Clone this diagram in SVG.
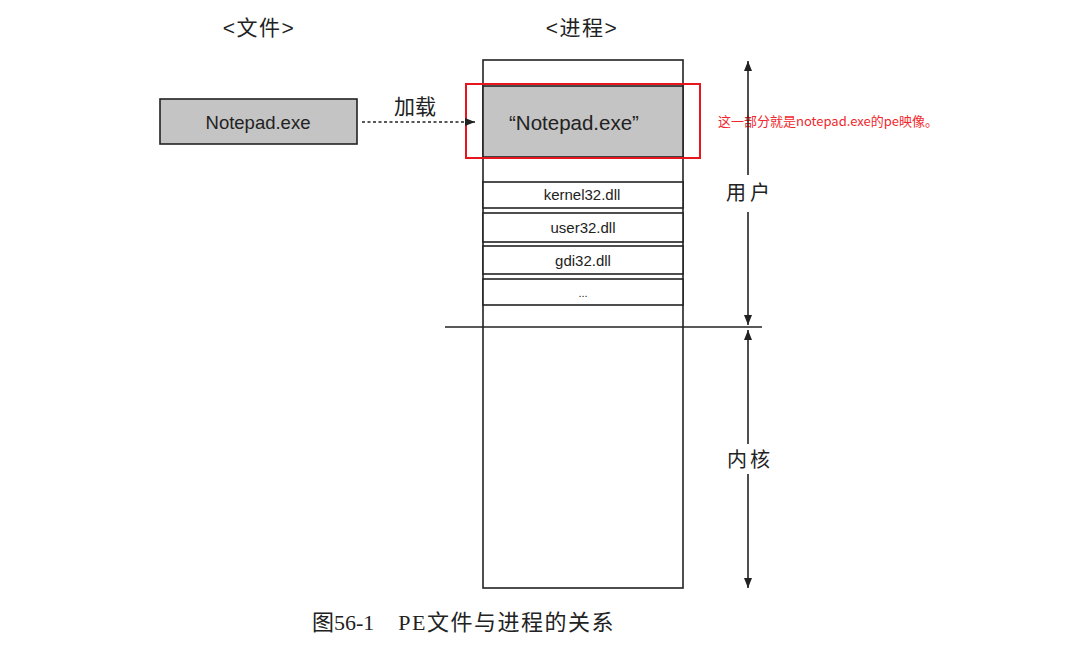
<svg xmlns="http://www.w3.org/2000/svg" width="1089" height="653" viewBox="0 0 1089 653">
<style>
.t{font-family:"Liberation Sans","Noto Sans CJK SC",sans-serif;fill:#222;text-anchor:middle}
.box{fill:#fff;stroke:#222;stroke-width:1.6}
.gray{fill:#c4c4c4;stroke:#222;stroke-width:1.6}
.ln{stroke:#222;stroke-width:1.6;fill:none}
.dll{font-size:15px}
</style>
<defs>
<marker id="ah" viewBox="0 0 10 10" refX="10" refY="5" markerWidth="10" markerHeight="10" markerUnits="userSpaceOnUse" orient="auto">
<path d="M0,1 L10,5 L0,9 Z" fill="#222"/>
</marker>
<marker id="ahb" viewBox="0 0 10 10" refX="10" refY="5" markerWidth="16" markerHeight="10" markerUnits="userSpaceOnUse" orient="auto">
<path d="M0,1 L10,5 L0,9 Z" fill="#222"/>
</marker>
</defs>
<rect width="1089" height="653" fill="#fff"/>
<text class="t" x="259" y="35" font-size="21" letter-spacing="1.5">&lt;文件&gt;</text>
<text class="t" x="582" y="35" font-size="21" letter-spacing="1.5">&lt;进程&gt;</text>
<g id="file">
<rect class="gray" x="160" y="99" width="197" height="45"/>
<text class="t" x="258" y="129" font-size="18.5">Notepad.exe</text>
</g>
<g id="process">
<rect class="box" x="483" y="60" width="200" height="528"/>
<rect class="gray" x="483" y="86" width="200" height="71"/>
<text class="t" x="574" y="130" font-size="20.5">“Notepad.exe”</text>
</g>
<g id="kernel32">
<rect class="box" x="483" y="182" width="200" height="26"/>
<text class="t dll" x="582" y="200">kernel32.dll</text>
</g>
<g id="user32">
<rect class="box" x="483" y="213" width="200" height="29"/>
<text class="t dll" x="583" y="233">user32.dll</text>
</g>
<g id="gdi32">
<rect class="box" x="483" y="246" width="200" height="28"/>
<text class="t dll" x="583" y="266">gdi32.dll</text>
</g>
<g id="more">
<rect class="box" x="483" y="279" width="200" height="26"/>
<text class="t" x="583" y="297" font-size="11">...</text>
</g>
<g id="highlight">
<rect x="466" y="84" width="234" height="74" fill="none" stroke="#e8141e" stroke-width="2"/>
<text x="718" y="126" font-size="13" fill="#f0282d" font-family="'Noto Sans CJK SC','Liberation Sans',sans-serif">这一部分就是notepad.exe的pe映像。</text>
</g>
<g id="connectors">
<line class="ln" x1="362" y1="122" x2="475" y2="122" stroke-dasharray="3,2.5" marker-end="url(#ah)"/>
<text class="t" x="415" y="114" font-size="21">加载</text>
<line class="ln" x1="445" y1="327" x2="762" y2="327"/>
<line class="ln" x1="748" y1="175" x2="748" y2="61" marker-end="url(#ahb)"/>
<line class="ln" x1="748" y1="212" x2="748" y2="325" marker-end="url(#ahb)"/>
<text class="t" x="750" y="200" font-size="20" letter-spacing="4">用户</text>
<line class="ln" x1="748" y1="444" x2="748" y2="330" marker-end="url(#ahb)"/>
<line class="ln" x1="748" y1="474" x2="748" y2="588" marker-end="url(#ahb)"/>
<text class="t" x="750" y="467" font-size="20" letter-spacing="3">内核</text>
</g>
<text x="312" y="630" font-size="22" fill="#222" font-family="'Liberation Serif','Noto Sans CJK SC',serif">图56-1<tspan dx="24" letter-spacing="1.5">PE文件与进程的关系</tspan></text>
</svg>
